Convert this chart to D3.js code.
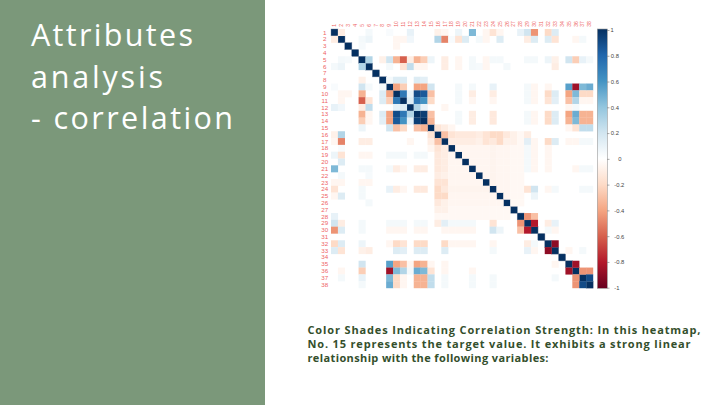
<!DOCTYPE html>
<html>
<head>
<meta charset="utf-8">
<script src="https://cdn.jsdelivr.net/npm/d3@7"></script>
<style>
  html, body { margin: 0; padding: 0; background: #fff; }
  svg { display: block; }
  text { font-variant-ligatures: none; }
</style>
</head>
<body>
<svg id="slide" width="720" height="405"></svg>
<script>
// variable names shown on both axes
var vars = ["1","2","3","4","5","6","7","8","9","10","11","12","13","14","15","16","17","18","19",
  "20","21","22","23","24","25","26","27","28","29","30","31","32","33","34","35","36","37","38"];

// lower triangle of the correlation matrix: [row, col, r]
// (diagonal is 1, every pair not listed is ~0)
var pairs = [
  [2,1,-0.1],
  [5,2,0.05],[5,3,0.04],
  [6,1,0.05],[6,2,0.08],[6,5,0.3],
  [8,5,-0.08],
  [9,1,0.03],[9,5,0.2],[9,6,0.05],[9,8,0.05],
  [10,2,-0.05],[10,3,-0.05],[10,5,-0.35],[10,8,0.15],[10,9,-0.4],
  [11,2,-0.05],[11,5,-0.6],[11,6,-0.15],[11,8,0.15],[11,9,-0.25],[11,10,0.72],
  [12,1,0.1],[12,2,0.06],[12,5,-0.1],[12,6,0.25],[12,10,0.1],[12,11,0.15],
  [13,5,-0.35],[13,6,-0.05],[13,8,0.15],[13,9,-0.4],[13,10,0.9],[13,11,0.72],[13,12,0.3],
  [14,5,-0.25],[14,6,-0.05],[14,8,0.12],[14,9,-0.4],[14,10,0.85],[14,11,0.6],[14,12,0.1],[14,13,0.95],
  [15,5,0.08],[15,9,0.2],[15,10,-0.3],[15,11,-0.2],[15,13,-0.3],[15,14,-0.35],
  [16,1,-0.08],[16,2,0.3],[16,15,-0.15],
  [17,1,-0.05],[17,2,-0.5],[17,5,-0.1],[17,6,-0.1],[17,12,-0.05],[17,15,-0.1],[17,16,-0.3],
  [18,2,0.03],[18,15,-0.05],[18,16,-0.15],[18,17,-0.1],
  [19,1,0.08],[19,2,-0.15],[19,5,-0.05],[19,6,-0.05],[19,9,0.05],[19,10,0.05],[19,11,0.05],[19,13,0.05],[19,14,0.05],
  [19,16,-0.12],[19,17,-0.1],[19,18,-0.05],
  [20,2,0.15],[20,16,-0.12],[20,17,-0.1],[20,18,-0.05],[20,19,-0.05],
  [21,1,0.45],[21,5,0.05],[21,6,0.05],[21,9,0.05],[21,10,-0.1],[21,11,-0.05],[21,13,-0.1],[21,14,-0.1],
  [21,16,-0.12],[21,17,-0.1],[21,18,-0.05],[21,19,-0.05],[21,20,-0.05],
  [22,2,0.05],[22,6,0.04],[22,16,-0.1],[22,17,-0.08],[22,18,-0.05],[22,19,-0.05],[22,20,-0.05],[22,21,-0.05],
  [23,1,-0.05],[23,2,-0.05],[23,5,-0.05],[23,6,-0.05],[23,16,-0.15],[23,17,-0.15],
  [23,18,-0.05],[23,19,-0.05],[23,20,-0.05],[23,21,-0.05],[23,22,-0.05],
  [24,1,-0.15],[24,5,0.05],[24,9,0.1],[24,10,-0.1],[24,11,-0.05],[24,13,-0.12],[24,14,-0.12],[24,16,-0.2],[24,17,-0.12],
  [24,18,-0.06],[24,19,-0.06],[24,20,-0.06],[24,21,-0.06],[24,22,-0.06],[24,23,-0.06],
  [25,1,-0.05],[25,2,0.15],[25,5,0.05],[25,16,-0.2],[25,17,-0.2],
  [25,18,-0.05],[25,19,-0.05],[25,20,-0.05],[25,21,-0.05],[25,22,-0.05],[25,23,-0.05],[25,24,-0.05],
  [26,6,0.05],[26,16,-0.12],[26,17,-0.08],
  [26,18,-0.05],[26,19,-0.05],[26,20,-0.05],[26,21,-0.05],[26,22,-0.05],[26,23,-0.05],[26,24,-0.05],[26,25,-0.05],
  [27,16,-0.08],[27,17,-0.08],
  [27,18,-0.04],[27,19,-0.04],[27,20,-0.04],[27,21,-0.04],[27,22,-0.04],[27,23,-0.04],[27,24,-0.04],[27,25,-0.04],[27,26,-0.04],
  [28,1,0.1],[28,16,-0.04],[28,17,-0.04],[28,18,-0.04],[28,19,-0.04],[28,20,-0.04],[28,21,-0.04],
  [28,22,-0.04],[28,23,-0.04],[28,24,-0.04],[28,25,-0.04],[28,26,-0.04],
  [29,1,0.2],[29,2,-0.1],[29,5,0.05],[29,9,0.05],[29,10,0.05],[29,11,0.05],[29,13,0.05],[29,14,0.05],
  [29,16,-0.1],[29,17,0.12],[29,18,0.05],[29,19,0.05],[29,20,0.05],[29,21,0.05],[29,24,-0.15],[29,28,-0.45],
  [30,1,-0.45],[30,2,0.15],[30,5,0.05],[30,9,-0.05],[30,10,-0.05],[30,11,-0.05],[30,13,-0.05],[30,14,-0.05],
  [30,17,-0.05],[30,18,-0.05],[30,19,-0.05],[30,20,-0.05],[30,21,-0.05],[30,24,0.2],[30,25,0.08],[30,28,-0.3],[30,29,-0.8],
  [32,1,-0.2],[32,2,0.15],[32,5,0.08],[32,9,-0.05],[32,10,-0.2],[32,11,-0.15],[32,13,-0.2],[32,14,-0.2],
  [32,17,-0.2],[32,18,-0.05],[32,19,-0.05],[32,20,-0.05],[32,21,-0.05],[32,24,-0.05],[32,29,-0.1],[32,30,0.05],
  [33,1,0.15],[33,2,-0.15],[33,5,-0.08],[33,6,-0.1],[33,10,0.15],[33,11,0.12],[33,13,0.15],[33,14,0.15],
  [33,17,0.15],[33,24,0.05],[33,29,0.1],[33,30,-0.05],[33,32,-0.9],
  [35,5,0.2],[35,9,0.55],[35,10,-0.4],[35,11,-0.3],[35,12,-0.05],[35,13,-0.4],[35,14,-0.35],[35,15,-0.05],
  [35,17,-0.05],[35,33,-0.05],
  [36,2,-0.05],[36,5,-0.25],[36,9,-0.85],[36,10,0.45],[36,11,0.3],[36,12,0.05],[36,13,0.5],[36,14,0.45],
  [36,15,-0.15],[36,17,-0.05],[36,21,-0.05],[36,35,-0.85],
  [37,2,0.05],[37,5,0.1],[37,9,0.45],[37,10,-0.2],[37,11,-0.05],[37,13,-0.35],[37,14,-0.35],[37,15,0.25],
  [37,17,0.05],[37,21,0.05],[37,24,0.05],[37,33,0.05],[37,36,-0.45],
  [38,5,0.05],[38,9,0.5],[38,10,-0.2],[38,11,-0.05],[38,13,-0.35],[38,14,-0.35],[38,15,0.25],
  [38,17,0.05],[38,21,0.05],[38,24,0.05],[38,36,-0.45],[38,37,0.9]
];

var legendTicks = [1, 0.8, 0.6, 0.4, 0.2, 0, -0.2, -0.4, -0.6, -0.8, -1];
// corrplot's default blue-white-red ramp
var rampStops = [-1, -0.8, -0.6, -0.4, -0.2, 0, 0.2, 0.4, 0.6, 0.8, 1];
var rampColors = ["#67001F","#B2182B","#D6604D","#F4A582","#FDDBC7","#FFFFFF",
  "#D1E5F0","#92C5DE","#4393C3","#2166AC","#053061"];

var titleLines = ["Attributes", "analysis", "- correlation"];
var captionLines = [
  "Color Shades Indicating Correlation Strength: In this heatmap,",
  "No. 15 represents the target value. It exhibits a strong linear",
  "relationship with the following variables:"
];

var svg = d3.select("#slide");

// left green panel + title
svg.append("rect").attr("x", 0).attr("y", 0).attr("width", 265).attr("height", 405)
  .attr("fill", "#7b987a");

var titleWidths = [162, 132, 202];
svg.append("g").selectAll("text").data(titleLines).join("text")
  .attr("x", 31)
  .attr("y", function(d, i) { return 46 + i * 41.6; })
  .attr("textLength", function(d, i) { return titleWidths[i]; })
  .attr("lengthAdjust", "spacing")
  .attr("fill", "#fff")
  .style("font-family", "'Open Sans', sans-serif")
  .style("font-size", "30.5px")
  .text(function(d) { return d; });

// full matrix from the lower triangle
var cells = [];
vars.forEach(function(v) { cells.push({ r: v, c: v, value: 1 }); });
pairs.forEach(function(p) {
  cells.push({ r: String(p[0]), c: String(p[1]), value: p[2] });
  cells.push({ r: String(p[1]), c: String(p[0]), value: p[2] });
});

var x = d3.scaleBand().domain(vars).range([331, 593]);
var y = d3.scaleBand().domain(vars).range([29, 288]);
var color = d3.scaleLinear().domain(rampStops).range(rampColors).interpolate(d3.interpolateRgb);

var heat = svg.append("g");
heat.append("rect").attr("x", 331).attr("y", 29).attr("width", 262).attr("height", 259).attr("fill", "#fff");
heat.selectAll("rect.cell").data(cells).join("rect")
  .attr("class", "cell")
  .attr("x", function(d) { return x(d.c); })
  .attr("y", function(d) { return y(d.r); })
  .attr("width", x.bandwidth() + 0.2)
  .attr("height", y.bandwidth() + 0.2)
  .attr("fill", function(d) { return color(d.value); })
  .attr("stroke", function(d) { return d.value === 1 ? "#6f7f99" : "none"; })
  .attr("stroke-width", 0.4);

// row labels
heat.selectAll("text.rowlab").data(vars).join("text")
  .attr("class", "rowlab")
  .attr("x", 324.7)
  .attr("y", function(d) { return y(d) + y.bandwidth() / 2; })
  .attr("dy", "0.35em")
  .attr("text-anchor", "middle")
  .attr("fill", "#ee6464")
  .style("font-family", "'Liberation Sans', Arial, sans-serif")
  .style("font-size", "6.2px")
  .text(function(d) { return d; });

// column labels, rotated
heat.selectAll("text.collab").data(vars).join("text")
  .attr("class", "collab")
  .attr("transform", function(d) { return "translate(" + (x(d) + x.bandwidth() / 2) + ",26.8) rotate(-90)"; })
  .attr("dy", "0.35em")
  .attr("text-anchor", "start")
  .attr("fill", "#ee6464")
  .style("font-family", "'Liberation Sans', Arial, sans-serif")
  .style("font-size", "5px")
  .text(function(d) { return d; });

// colour legend
var defs = svg.append("defs");
var grad = defs.append("linearGradient").attr("id", "cbar")
  .attr("x1", 0).attr("y1", 1).attr("x2", 0).attr("y2", 0);
grad.selectAll("stop").data(rampStops).join("stop")
  .attr("offset", function(d) { return (d + 1) / 2; })
  .attr("stop-color", function(d) { return color(d); });

var ly = d3.scaleLinear().domain([-1, 1]).range([287.7, 30]);
svg.append("rect").attr("x", 597.3).attr("y", 29).attr("width", 10).attr("height", 259.3)
  .attr("fill", "url(#cbar)").attr("stroke", "#9a9a9a").attr("stroke-width", 0.6);

var axis = d3.axisRight(ly).tickValues(legendTicks).tickSize(2.2).tickPadding(1)
  .tickFormat(function(d) { return String(+d.toFixed(1)); });
var ag = svg.append("g").attr("transform", "translate(607.3,0)").call(axis);
ag.select(".domain").remove();
ag.selectAll(".tick line").attr("stroke", "#555").attr("stroke-width", 0.5);
ag.selectAll(".tick text")
  .attr("x", function(d) { return d > 0 ? (d === 1 ? 3.2 : 3.5) : (d === 0 ? 11 : 7); })
  .attr("fill", "#444")
  .style("font-family", "'Liberation Sans', Arial, sans-serif")
  .style("font-size", "5.8px");

// caption
var capWidths = [393, 383, 241];
svg.append("g").selectAll("text").data(captionLines).join("text")
  .attr("x", 307.5)
  .attr("y", function(d, i) { return 334 + i * 14.2; })
  .attr("textLength", function(d, i) { return capWidths[i]; })
  .attr("lengthAdjust", "spacing")
  .attr("fill", "#344f2c")
  .style("font-family", "'Open Sans', sans-serif")
  .style("font-weight", "bold")
  .style("font-size", "11px")
  .text(function(d) { return d; });
</script>
</body>
</html>
